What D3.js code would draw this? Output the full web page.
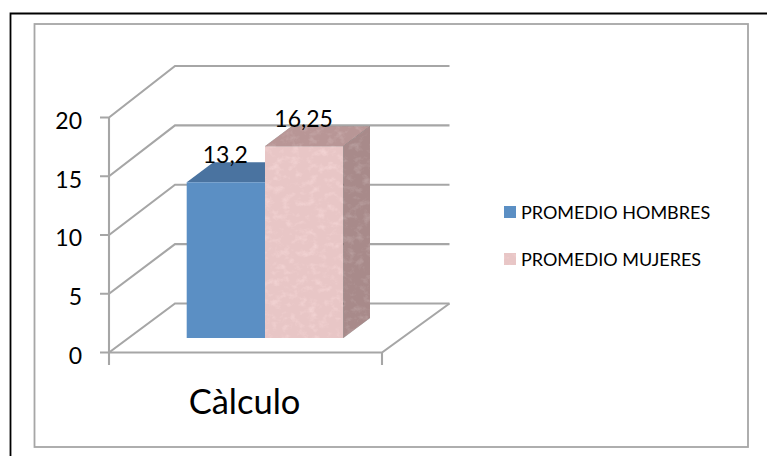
<!DOCTYPE html>
<html><head><meta charset="utf-8">
<script src="https://cdn.jsdelivr.net/npm/d3@7/dist/d3.min.js"></script>
<style>html,body{margin:0;padding:0;background:#fff}svg{display:block}text{font-family:Lato,"Open Sans",sans-serif;fill:#000}</style>
</head><body><script>
const categories = ["Càlculo"];
const seriesNames = ["PROMEDIO HOMBRES", "PROMEDIO MUJERES"];
const seriesValues = [13.2, 16.25];
const valueLabels = ["13,2", "16,25"];
const axisTicks = [0, 5, 10, 15, 20];

const W = 767, H = 456;
const svg = d3.select("body").append("svg").attr("width", W).attr("height", H);

// stone texture
const defs = svg.append("defs");
const tex = defs.append("filter").attr("id", "stone").attr("x", 0).attr("y", 0).attr("width", 1).attr("height", 1);
tex.append("feTurbulence").attr("type", "fractalNoise").attr("baseFrequency", "0.11 0.14").attr("numOctaves", 5).attr("seed", 5).attr("result", "n");
tex.append("feColorMatrix").attr("in", "n").attr("type", "matrix")
  .attr("values", "0.22 0 0 0 -0.11  0.22 0 0 0 -0.11  0.22 0 0 0 -0.11  0 0 0 0 1").attr("result", "g");
tex.append("feComposite").attr("in", "SourceGraphic").attr("in2", "g").attr("operator", "arithmetic")
  .attr("k1", 0).attr("k2", 1).attr("k3", 1).attr("k4", 0).attr("result", "m");
tex.append("feComposite").attr("in", "m").attr("in2", "SourceAlpha").attr("operator", "in");

// frames
const grey = "#a6a6a6";
svg.append("path").attr("d", "M10.5,456V13.5H767").attr("fill", "none").attr("stroke", "#000").attr("stroke-width", 1.8);
svg.append("rect").attr("x", 34.5).attr("y", 24).attr("width", 713.5).attr("height", 423)
  .attr("fill", "#fff").attr("stroke", grey).attr("stroke-width", 1.8);

// scales
const yFront = d3.scaleLinear().domain([0, 20]).range([352.5, 117.5]);
const yBack = d3.scaleLinear().domain([0, 20]).range([303.5, 66]);
const yBar = d3.scaleLinear().domain([0, 20]).range([338, 102]);
const xCat = d3.scaleBand().domain(categories).range([109, 382]);
const xBar = d3.scaleBand().domain(seriesNames).range([186.7, 343.3]);
const depthX = 66, wallEnd = 449.5;
const barDX = 26.7, barDY = -20;
const line = d3.line();

// walls and grid
const g = svg.append("g").attr("fill", "none").attr("stroke", grey).attr("stroke-width", 2.1);
axisTicks.forEach(t => {
  g.append("path").attr("d", line([[100, yFront(t)], [109, yFront(t)], [109 + depthX, yBack(t)], [wallEnd, yBack(t)]]));
});
g.append("path").attr("d", line([[109, yFront(20)], [109, 365]]));
g.append("path").attr("d", line([[109, yFront(0)], [382, yFront(0)], [wallEnd, yBack(0)]]));
g.append("path").attr("d", line([[382, yFront(0)], [382, 365]]));

// tick labels
svg.append("g").selectAll("text").data(axisTicks).join("text")
  .attr("x", 82).attr("y", d => yFront(d) + 3).attr("dy", "0.36em")
  .attr("text-anchor", "end").attr("font-size", 23).text(d => d);
svg.append("g").selectAll("text").data(categories).join("text")
  .attr("x", d => xCat(d) + xCat.bandwidth() / 2 - 1).attr("y", 414)
  .attr("text-anchor", "middle").attr("font-size", 34.5).text(d => d);

// bars
const styles = [
  {front: "#5b8fc4", top: "#4a73a0", side: "#44678f", filter: null},
  {front: "#e8c6c6", top: "#b89696", side: "#a88a8a", filter: "url(#stone)"}
];
seriesNames.forEach((name, i) => {
  const v = seriesValues[i], s = styles[i];
  const x0 = xBar(name), x1 = x0 + xBar.bandwidth(), y0 = yBar(0), y1 = yBar(v);
  const bar = svg.append("g");
  const poly = (pts, fill) => bar.append("path").attr("d", line(pts) + "Z").attr("fill", fill).attr("filter", s.filter);
  poly([[x0, y1], [x1, y1], [x1 + barDX, y1 + barDY], [x0 + barDX, y1 + barDY]], s.top);
  poly([[x1, y0], [x1, y1], [x1 + barDX, y1 + barDY], [x1 + barDX, y0 + barDY]], s.side);
  poly([[x0, y0], [x1, y0], [x1, y1], [x0, y1]], s.front);
});
// labels
seriesNames.forEach((name, i) => {
  svg.append("text").attr("x", xBar(name) + xBar.bandwidth() / 2 - 0.5).attr("y", yBar(seriesValues[i]) - 19)
    .attr("text-anchor", "middle").attr("font-size", 23).text(valueLabels[i]);
});

// legend
seriesNames.forEach((name, i) => {
  const y = 206 + i * 47;
  svg.append("rect").attr("x", 504).attr("y", y).attr("width", 12).attr("height", 12)
    .attr("fill", styles[i].front).attr("filter", styles[i].filter);
  svg.append("text").attr("x", 521).attr("y", y + 7).attr("dy", "0.36em").attr("font-size", 18).text(name);
});
</script></body></html>
